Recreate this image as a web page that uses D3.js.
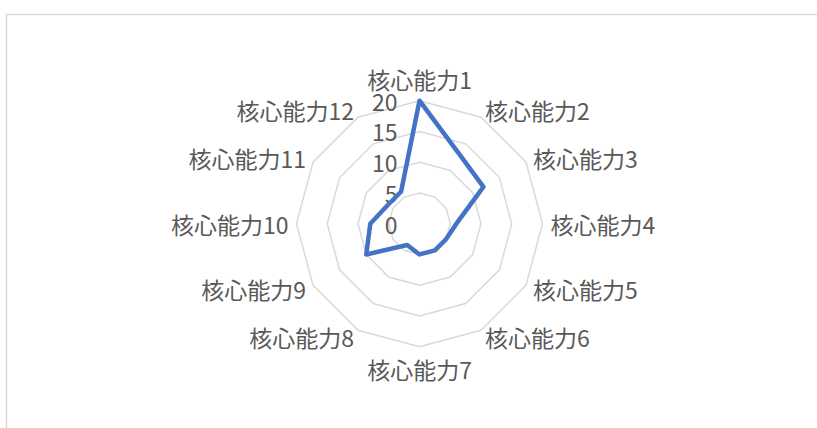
<!DOCTYPE html>
<html>
<head>
<meta charset="utf-8">
<script src="https://cdn.jsdelivr.net/npm/d3@7"></script>
<style>
  body { margin: 0; background: #fff; }
  svg { display: block; }
</style>
</head>
<body>
<svg width="817" height="428"></svg>
<script>
// data
var categories = ["核心能力1","核心能力2","核心能力3","核心能力4","核心能力5","核心能力6",
                  "核心能力7","核心能力8","核心能力9","核心能力10","核心能力11","核心能力12"];
var values = [20, 13, 12, 6, 5, 5, 5, 4, 10, 8, 6, 6];
var tickValues = [0, 5, 10, 15, 20];

var svg = d3.select("svg"),
    width = +svg.attr("width"),
    height = +svg.attr("height");

var cx = 419.5, cy = 223.7, R = 123;
var font = "'Noto Sans CJK JP', 'Noto Sans CJK SC', sans-serif";

// chart area border (runs off right/bottom like the reference)
svg.append("rect")
    .attr("x", 6.5).attr("y", 14.5)
    .attr("width", 830).attr("height", 430)
    .attr("fill", "none")
    .attr("stroke", "#d9d9d9")
    .attr("stroke-width", 1.5);

var r = d3.scaleLinear().domain([0, 20]).range([0, R]);
var angle = d3.scaleBand().domain(categories).range([0, 2 * Math.PI]).align(0);
function ang(c) { return angle(c); }

var g = svg.append("g").attr("transform", "translate(" + cx + "," + cy + ")");

// grid rings
var ringLine = d3.lineRadial()
    .angle(function(d) { return ang(d); })
    .curve(d3.curveLinearClosed);

g.append("g").selectAll("path")
    .data(tickValues.filter(function(t) { return t > 0; }))
    .enter().append("path")
    .attr("d", function(t) { return ringLine.radius(r(t))(categories); })
    .attr("fill", "none")
    .attr("stroke", "#d9d9d9")
    .attr("stroke-width", 1.5);

// tick labels
g.append("g").selectAll("text")
    .data(tickValues)
    .enter().append("text")
    .attr("x", -22)
    .attr("y", function(t) { return -r(t); })
    .attr("text-anchor", "end")
    .attr("dominant-baseline", "central")
    .attr("font-family", font)
    .attr("font-size", 23)
    .attr("fill", "#595959")
    .text(function(t) { return t; });

// series
var seriesLine = d3.lineRadial()
    .angle(function(d, i) { return ang(categories[i]); })
    .radius(function(d) { return r(d); })
    .curve(d3.curveLinearClosed);

g.append("path")
    .datum(values)
    .attr("d", seriesLine)
    .attr("fill", "none")
    .attr("stroke", "#4472c4")
    .attr("stroke-width", 4.5)
    .attr("stroke-linejoin", "round");

// category labels
g.append("g").selectAll("text")
    .data(categories)
    .enter().append("text")
    .each(function(c) {
      var a = ang(c), s = Math.sin(a), co = Math.cos(a);
      var off = Math.abs(s) < 0.01 ? 22 : 8;
      d3.select(this)
        .attr("x", (R + off) * s)
        .attr("y", -(R + off) * co)
        .attr("text-anchor", Math.abs(s) < 0.01 ? "middle" : (s > 0 ? "start" : "end"));
    })
    .attr("dominant-baseline", "central")
    .attr("font-family", font)
    .attr("font-size", 23)
    .attr("fill", "#595959")
    .text(function(c) { return c; });
</script>
</body>
</html>
